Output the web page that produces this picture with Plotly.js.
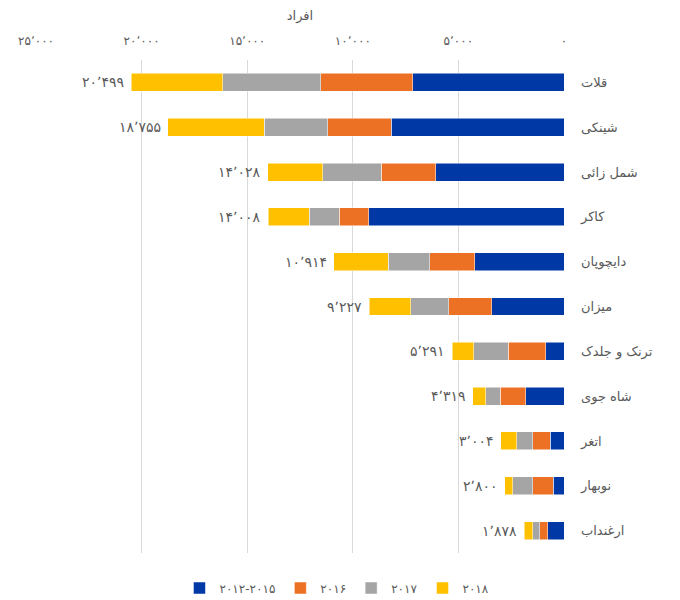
<!DOCTYPE html>
<html><head><meta charset="utf-8">
<script src="https://cdn.plot.ly/plotly-3.0.1.min.js"></script>
<style>body{margin:0;background:#fff}#chart{width:680px;height:600px}</style>
</head><body><div id="chart"></div>
<script>
const categories = ["قلات","شینکی","شمل زائی","کاکر","دایچوپان","میزان","ترنک و جلدک","شاه جوی","اتغر","نوبهار","ارغنداب"];
const v2012_2015 = [7170, 8180, 6080, 9250, 4220, 3410, 860, 1800, 650, 520, 760];
const v2016 = [4340, 3000, 2570, 1380, 2140, 2040, 1790, 1210, 820, 950, 380];
const v2017 = [4640, 3020, 2780, 1430, 1970, 1800, 1630, 700, 760, 950, 340];
const v2018 = [4349, 4555, 2598, 1948, 2584, 1977, 1011, 609, 774, 380, 398];
const totals = [20499, 18755, 14028, 14008, 10914, 9227, 5291, 4319, 3004, 2800, 1878];
const totalLabels = ["۲۰٬۴۹۹","۱۸٬۷۵۵","۱۴٬۰۲۸","۱۴٬۰۰۸","۱۰٬۹۱۴","۹٬۲۲۷","۵٬۲۹۱","۴٬۳۱۹","۳٬۰۰۴","۲٬۸۰۰","۱٬۸۷۸"];
const seriesNames = ["۲۰۱۲-۲۰۱۵","۲۰۱۶","۲۰۱۷","۲۰۱۸"];
const tickVals = [0, 5000, 10000, 15000, 20000, 25000];
const tickText = ["۰","۵٬۰۰۰","۱۰٬۰۰۰","۱۵٬۰۰۰","۲۰٬۰۰۰","۲۵٬۰۰۰"];
const xTitle = "افراد";

const colors = ["#0039a6","#ed7125","#a5a5a5","#ffc000"];
const seriesVals = [v2012_2015, v2016, v2017, v2018];
const traces = seriesVals.map((vals, i) => ({
  type: 'bar', orientation: 'h', x: vals, y: categories, name: seriesNames[i],
  marker: {color: colors[i], line: {color: '#ffffff', width: 0.5}}, hoverinfo: 'none'
}));
const annotations = totals.map((t, i) => ({
  x: t, y: categories[i], xref: 'x', yref: 'y', text: totalLabels[i],
  showarrow: false, xanchor: 'right', yanchor: 'middle', xshift: -5,
  font: {size: 14, color: '#595959', family: 'DejaVu Sans'}
}));
const layout = {
  width: 680, height: 600,
  margin: {l: 36, r: 116, t: 60, b: 47, autoexpand: false},
  barmode: 'stack', bargap: 0.6,
  paper_bgcolor: '#fff', plot_bgcolor: '#fff',
  font: {family: 'DejaVu Sans', size: 12, color: '#595959'},
  xaxis: {
    side: 'top', range: [25000, 0], tickvals: tickVals, ticktext: tickText,
    showgrid: true, gridcolor: '#d9d9d9', gridwidth: 1, zeroline: false,
    showline: false, ticks: '', ticklabelstandoff: 12, tickfont: {size: 12, color: '#595959'},
    title: {text: xTitle, font: {size: 13, color: '#595959'}, standoff: 10}
  },
  yaxis: {
    side: 'right', autorange: 'reversed', showgrid: false, zeroline: false,
    showline: false, ticks: '', ticklabelstandoff: 16,
    tickfont: {size: 13, color: '#595959'}
  },
  annotations: annotations,
  legend: {orientation: 'h', x: 0.57, xanchor: 'center', y: -0.071, yanchor: 'middle',
    font: {size: 12, color: '#595959'}, traceorder: 'normal'},
  showlegend: true
};
Plotly.newPlot('chart', traces, layout, {staticPlot: true});
</script></body></html>
